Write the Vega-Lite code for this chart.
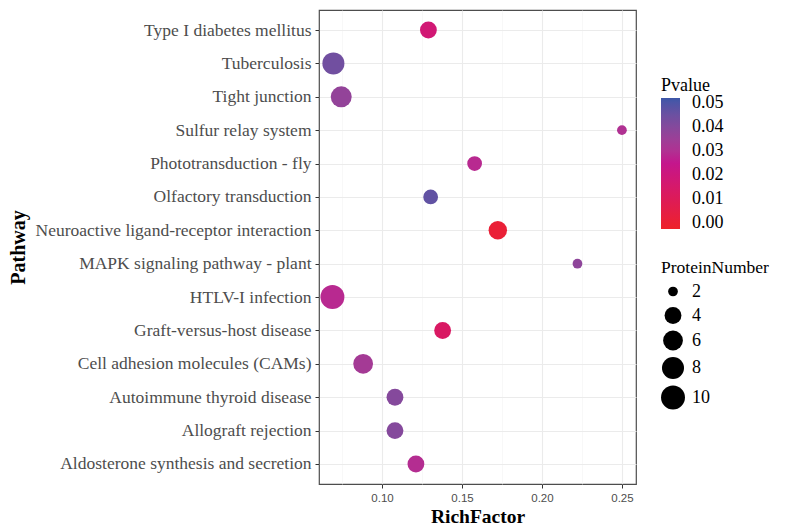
{
  "$schema": "https://vega.github.io/schema/vega-lite/v6.json",
  "autosize": {"type": "none"},
  "padding": {"left": 319, "top": 10, "right": 149, "bottom": 47},
  "width": 317,
  "height": 474,
  "background": "white",
  "config": {
    "view": {"stroke": "#4D4D4D", "strokeWidth": 1.2},
    "axis": {"domain": false}
  },
  "data": {
    "values": [
      {"Pathway": "Type I diabetes mellitus", "RichFactor": 0.129, "ProteinNumber": 4, "Pvalue": 0.018},
      {"Pathway": "Tuberculosis", "RichFactor": 0.0696, "ProteinNumber": 8, "Pvalue": 0.044},
      {"Pathway": "Tight junction", "RichFactor": 0.0745, "ProteinNumber": 7, "Pvalue": 0.037},
      {"Pathway": "Sulfur relay system", "RichFactor": 0.25, "ProteinNumber": 2, "Pvalue": 0.030},
      {"Pathway": "Phototransduction - fly", "RichFactor": 0.1579, "ProteinNumber": 3, "Pvalue": 0.028},
      {"Pathway": "Olfactory transduction", "RichFactor": 0.1304, "ProteinNumber": 3, "Pvalue": 0.047},
      {"Pathway": "Neuroactive ligand-receptor interaction", "RichFactor": 0.1724, "ProteinNumber": 5, "Pvalue": 0.001},
      {"Pathway": "MAPK signaling pathway - plant", "RichFactor": 0.2222, "ProteinNumber": 2, "Pvalue": 0.038},
      {"Pathway": "HTLV-I infection", "RichFactor": 0.069, "ProteinNumber": 10, "Pvalue": 0.028},
      {"Pathway": "Graft-versus-host disease", "RichFactor": 0.1379, "ProteinNumber": 4, "Pvalue": 0.013},
      {"Pathway": "Cell adhesion molecules (CAMs)", "RichFactor": 0.0882, "ProteinNumber": 6, "Pvalue": 0.033},
      {"Pathway": "Autoimmune thyroid disease", "RichFactor": 0.1081, "ProteinNumber": 4, "Pvalue": 0.040},
      {"Pathway": "Allograft rejection", "RichFactor": 0.1081, "ProteinNumber": 4, "Pvalue": 0.040},
      {"Pathway": "Aldosterone synthesis and secretion", "RichFactor": 0.1212, "ProteinNumber": 4, "Pvalue": 0.029}
    ]
  },
  "mark": {"type": "circle", "opacity": 1},
  "encoding": {
    "x": {
      "field": "RichFactor",
      "type": "quantitative",
      "scale": {"domain": [0.0606, 0.2588], "nice": false, "zero": false},
      "axis": {
        "title": "RichFactor",
        "titleFont": "Liberation Serif",
        "titleFontSize": 19.5,
        "titleFontWeight": "bold",
        "titleColor": "black",
        "titlePadding": 4,
        "values": [0.075, 0.1, 0.125, 0.15, 0.175, 0.2, 0.225, 0.25],
        "labelExpr": "round(datum.value*1000) % 50 == 0 ? format(datum.value, '.2f') : ''",
        "labelFont": "Liberation Sans",
        "labelFontSize": 11.5,
        "labelColor": "#4D4D4D",
        "labelPadding": 4,
        "tickSize": 4,
        "tickColor": {"condition": {"test": "round(datum.value*1000) % 50 != 0", "value": "transparent"}, "value": "#333333"},
        "grid": true,
        "gridColor": {"condition": {"test": "round(datum.value*1000) % 50 != 0", "value": "#F4F4F4"}, "value": "#EBEBEB"},
        "gridWidth": {"condition": {"test": "round(datum.value*1000) % 50 != 0", "value": 0.6}, "value": 1.1}
      }
    },
    "y": {
      "field": "Pathway",
      "type": "nominal",
      "sort": null,
      "scale": {"type": "point", "padding": 0.6},
      "axis": {
        "title": "Pathway",
        "titleFont": "Liberation Serif",
        "titleFontSize": 20,
        "titleFontWeight": "bold",
        "titleColor": "black",
        "titleX": -301,
        "titleY": 237,
        "titleAngle": 270,
        "titleAlign": "center",
        "titleBaseline": "middle",
        "labelFont": "Liberation Serif",
        "labelFontSize": 17.5,
        "labelColor": "#4D4D4D",
        "labelPadding": 4,
        "labelLimit": 400,
        "tickSize": 4,
        "tickColor": "#333333",
        "grid": true,
        "gridColor": "#EBEBEB",
        "gridWidth": 1.1
      }
    },
    "color": {
      "field": "Pvalue",
      "type": "quantitative",
      "scale": {
        "domain": [-0.0025, 0.025, 0.0521],
        "range": ["#EE2229", "#C4168D", "#3C57A8"],
        "interpolate": "lab"
      },
      "legend": {
        "title": "Pvalue",
        "orient": "none",
        "legendX": 342,
        "legendY": 67,
        "titleFont": "Liberation Serif",
        "titleFontSize": 18,
        "titleFontWeight": "normal",
        "titleColor": "black",
        "titlePadding": 3,
        "labelFont": "Liberation Serif",
        "labelFontSize": 18,
        "labelColor": "black",
        "labelOverlap": false,
        "values": [0, 0.01, 0.02, 0.03, 0.04, 0.05],
        "format": ".2f",
        "gradientLength": 131,
        "gradientThickness": 19,
        "gradientStrokeWidth": 0,
        "labelOffset": 12
      }
    },
    "size": {
      "field": "ProteinNumber",
      "type": "quantitative",
      "scale": {
        "domain": [2, 3, 4, 5, 6, 7, 8, 10],
        "range": [95, 218, 284, 340, 391, 439, 486, 573]
      },
      "legend": {
        "title": "ProteinNumber",
        "orient": "none",
        "legendX": 342,
        "legendY": 249,
        "values": [2, 4, 6, 8, 10],
        "titleFont": "Liberation Serif",
        "titleFontSize": 17.5,
        "titleFontWeight": "normal",
        "titleColor": "black",
        "titlePadding": 6,
        "labelFont": "Liberation Serif",
        "labelFontSize": 18,
        "labelColor": "black",
        "symbolFillColor": "black",
        "symbolStrokeWidth": 0,
        "symbolOpacity": 1,
        "symbolType": "circle",
        "rowPadding": 6,
        "labelOffset": 7
      }
    }
  }
}
